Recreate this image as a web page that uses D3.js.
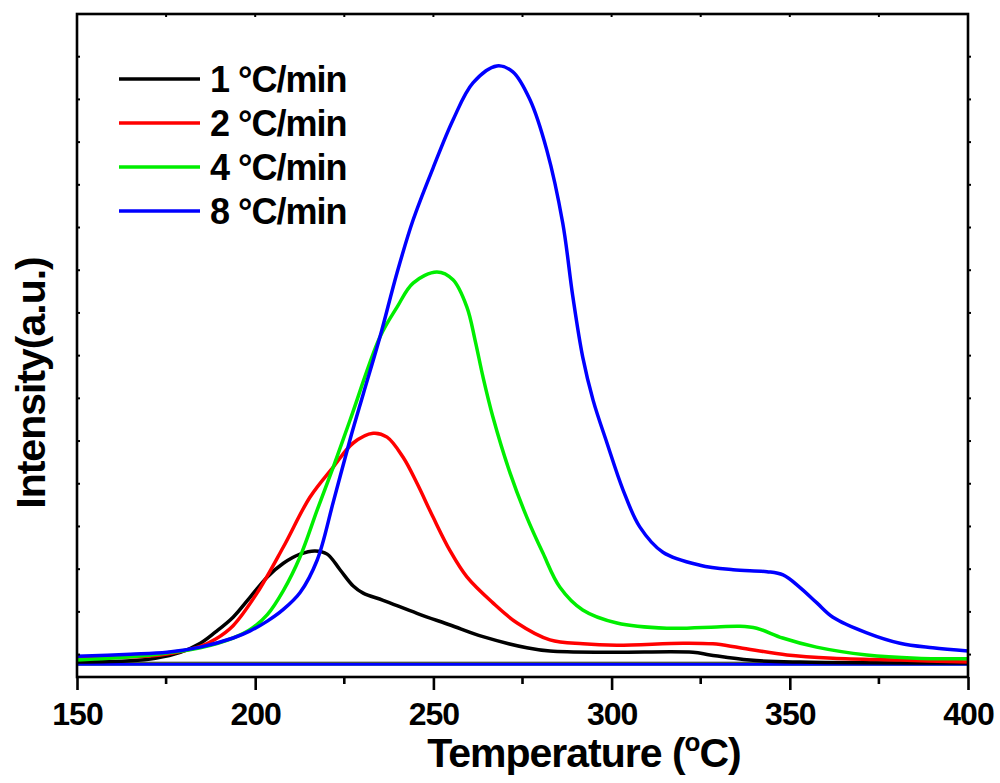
<!DOCTYPE html>
<html lang="en">
<head>
  <meta charset="utf-8">
  <title>heating rate curves</title>
  <style>
  * { margin:0; padding:0; }
  body { background:#fff; }
  svg text { font-family: Arial, "Liberation Sans", sans-serif; font-weight: bold; }
  </style>
  <script src="https://d3js.org/d3.v7.min.js"></script>
</head>
<body>
  <div id="chart"></div>
  <script type="text/javascript">
  // temperature (oC) and intensity (a.u.)
  var t1=[150,165,172,179,184.6,188.8,193.8,198.6,203.4,207.9,212.6,216.8,220.2,223.8,227.5,230.3,235.9,245.4,254.7,263.9,276.2,282.7,299.5,322.8,327.6,338.8,352.8,400];
  var i1=[0.3,0.5,0.9,1.8,3.2,4.9,7.2,10.3,13.4,15.5,16.9,17.4,16.9,14.5,12.0,10.9,9.8,7.8,6.0,4.2,2.5,2.0,1.8,1.8,1.4,0.6,0.3,0.15];

  var t2=[150,165,173.4,179.8,184.6,188.8,193.8,200.5,207.9,215.4,221.9,227.5,233.1,237,241.5,245.4,249.9,254.7,259.4,266.7,273.5,282.7,292,301.5,320,328.4,336,349.2,362.1,380.9,400];
  var i2=[0.9,1.1,1.4,2.0,2.7,3.8,5.9,10.9,18.0,25.7,30.3,34.0,35.5,34.9,31.8,27.8,22.6,17.4,13.4,9.4,6.3,3.7,3.1,2.9,3.2,3.1,2.5,1.4,0.9,0.6,0.3];

  var t4=[150,165,175.3,184.6,193.8,198.6,203.4,207.9,212.6,217.4,221.9,226.6,235,239.8,244.3,251,255.5,259.4,261.7,263.9,266.7,271.5,276.2,280.7,285.5,291.9,301.5,315.5,329.5,336,340.7,348,357.5,371.6,385.6,400];
  var i4=[0.6,1.1,1.7,2.5,4.0,5.3,7.6,11.3,16.5,23.7,30.3,37.5,50.3,54.9,58.6,60.3,59.1,54.9,49.8,44.2,38.0,29.4,22.6,17.1,11.8,8.3,6.3,5.5,5.7,5.8,5.5,4.0,2.6,1.4,0.9,0.8];

  var t8=[150,165,175.3,184.6,193.8,198.6,203.4,207.9,212.6,217.4,221.9,226.6,230.3,235,239.8,244.3,249.9,255.5,261.1,267.8,272.3,277.1,281.8,286.3,289.1,291.9,294.8,298.7,303.2,307.9,314.4,324.8,334.1,343.6,348.1,352.8,357.6,362.1,371.6,380.9,390.1,400];
  var i8=[1.2,1.5,1.8,2.6,4.0,5.1,6.6,8.4,11.0,16.0,24.9,34.5,41.5,50.3,60.2,68.3,76.3,83.7,89.4,92.0,91.1,86.8,79.1,67.8,56.6,47.2,40.6,34.0,26.8,21.1,17.2,15.2,14.5,14.2,13.7,11.8,9.4,7.2,4.8,3.2,2.5,2.0];

  // flat trace along the bottom of every run
  var baseT=[150,400];
  var baseI=[0,0];

  var names=["1 \u00B0C/min","2 \u00B0C/min","4 \u00B0C/min","8 \u00B0C/min"];
  var colors=["#000000","#ff0000","#00ee00","#0000ff"];
  var xTicks=[150,200,250,300,350,400];

  var series=[
    {name:names[0],c:colors[0],t:t1,v:i1},
    {name:names[1],c:colors[1],t:t2,v:i2},
    {name:names[2],c:colors[2],t:t4,v:i4},
    {name:names[3],c:colors[3],t:t8,v:i8}
  ];

  var W=1000, H=783;
  var pL=77, pR=968, pT=14, pB=677;

  var svg=d3.select("#chart").append("svg")
    .attr("width",W).attr("height",H);

  var x=d3.scaleLinear().domain([150,400]).range([pL,pR]);
  var y=d3.scaleLinear().domain([-2,100]).range([pB,pT]);

  var line=d3.line()
    .x(function(d){return x(d[0]);})
    .y(function(d){return y(d[1]);})
    .curve(d3.curveCatmullRom.alpha(0.5));

  function pts(t,v){ return t.map(function(d,i){return [d,v[i]];}); }

  // baselines first, then the curves
  series.forEach(function(s,k){
    svg.append("path")
      .attr("d",line(pts(baseT,baseI.map(function(b){return b-0.05*k+0.1;}))))
      .attr("fill","none").attr("stroke",s.c).attr("stroke-width",3);
  });
  series.forEach(function(s){
    svg.append("path")
      .attr("d",line(pts(s.t,s.v)))
      .attr("fill","none").attr("stroke",s.c).attr("stroke-width",3.5)
      .attr("stroke-linejoin","round");
  });

  // frame
  svg.append("rect")
    .attr("x",pL).attr("y",pT)
    .attr("width",pR-pL).attr("height",pB-pT)
    .attr("fill","none").attr("stroke","#000").attr("stroke-width",2.6);

  // bottom axis
  var xAxis=d3.axisBottom(x).tickValues(xTicks).tickSize(13).tickPadding(12).tickFormat(d3.format("d"));
  var gx=svg.append("g").attr("transform","translate(0,"+pB+")").call(xAxis);
  gx.select(".domain").remove();
  gx.selectAll(".tick line").attr("stroke-width",2.6);
  gx.selectAll("text").attr("font-size",32).attr("letter-spacing","-1px").attr("fill","#000")
    .attr("font-family","Arial, 'Liberation Sans', sans-serif");

  var minor=d3.range(175,400,50);
  svg.selectAll(".minorx").data(minor).enter().append("line")
    .attr("x1",function(d){return x(d);}).attr("x2",function(d){return x(d);})
    .attr("y1",pB).attr("y2",pB+7)
    .attr("stroke","#000").attr("stroke-width",2.6);

  // top ticks, small and inward
  svg.selectAll(".topx").data(d3.range(175,400,25)).enter().append("line")
    .attr("x1",function(d){return x(d);}).attr("x2",function(d){return x(d);})
    .attr("y1",pT).attr("y2",pT+3)
    .attr("stroke","#000").attr("stroke-width",2);

  // y ticks, no labels
  var yTicks=d3.range(1,16).map(function(k){return 100-k*6.57;});
  svg.selectAll(".ly").data(yTicks).enter().append("line")
    .attr("x1",pL).attr("x2",pL+3)
    .attr("y1",function(d){return y(d);}).attr("y2",function(d){return y(d);})
    .attr("stroke","#000").attr("stroke-width",2);
  svg.selectAll(".ry").data(yTicks).enter().append("line")
    .attr("x1",pR).attr("x2",pR+3)
    .attr("y1",function(d){return y(d);}).attr("y2",function(d){return y(d);})
    .attr("stroke","#000").attr("stroke-width",2);

  // axis titles
  var xt=svg.append("text").attr("x",584).attr("y",767)
    .attr("text-anchor","middle").attr("font-size",41).attr("letter-spacing","-1px");
  xt.append("tspan").text("Temperature (");
  xt.append("tspan").attr("font-size",26).attr("dy",-16).text("o");
  xt.append("tspan").attr("dy",16).text("C)");

  svg.append("text")
    .attr("transform","translate(45,383) rotate(-90)")
    .attr("text-anchor","middle").attr("font-size",41).attr("letter-spacing","-1px")
    .text("Intensity(a.u.)");

  // legend
  var leg=svg.selectAll(".leg").data(series).enter().append("g")
    .attr("transform",function(d,i){return "translate(119,"+(79+i*44)+")";});
  leg.append("line").attr("x1",0).attr("x2",81).attr("y1",0).attr("y2",0)
    .attr("stroke",function(d){return d.c;}).attr("stroke-width",3.5);
  leg.append("text").attr("x",91).attr("y",13)
    .attr("font-size",36).attr("letter-spacing","-1px")
    .text(function(d){return d.name;});
  </script>
</body>
</html>
